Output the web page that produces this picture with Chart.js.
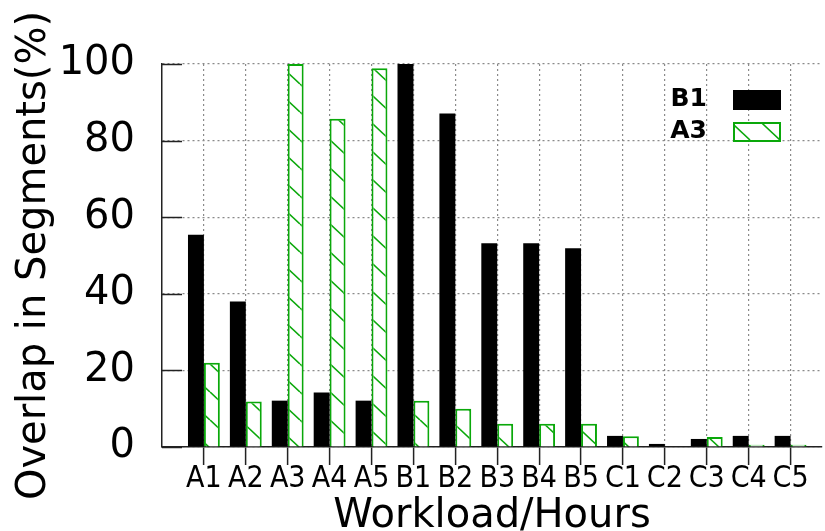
<!DOCTYPE html>
<html>
<head>
<meta charset="utf-8">
<script src="https://cdn.jsdelivr.net/npm/chart.js@4.4.1/dist/chart.umd.min.js"></script>
<style>
  body { margin: 0; background: #fff; }
  #wrap { width: 825px; height: 531px; }
</style>
</head>
<body>
<div id="wrap"><canvas id="overlapChart"></canvas></div>
<script>
// values (percent of segments)
const workloads = ['A1', 'A2', 'A3', 'A4', 'A5', 'B1', 'B2', 'B3', 'B4', 'B5', 'C1', 'C2', 'C3', 'C4', 'C5'];
const b1Overlap = [55.4, 38, 12.1, 14.2, 12.1, 100, 87.1, 53.2, 53.2, 51.9, 2.9, 0.8, 2.1, 2.9, 2.9];
const a3Overlap = [22, 11.9, 100, 85.7, 98.9, 12.1, 10, 6.1, 6.1, 6.1, 2.8, 0, 2.6, 0.6, 0.6];
const yTicks = [0, 20, 40, 60, 80, 100];

const GREEN = '#0aa80a';
const GRID = '#8a8a8a';

// diagonal hatch like gnuplot's pattern fill
function makeHatch(color) {
    const w = 30, h = 28;
    const c = document.createElement('canvas');
    c.width = w; c.height = h;
    const g = c.getContext('2d');
    g.fillStyle = '#fff';
    g.fillRect(0, 0, w, h);
    g.strokeStyle = color;
    g.lineWidth = 1.6;
    [-w, 0, w].forEach(dx => {
        g.beginPath();
        g.moveTo(dx, 0);
        g.lineTo(dx + w, h);
        g.stroke();
    });
    return g.createPattern(c, 'repeat');
}
const hatch = makeHatch(GREEN);

// short solid tick marks inside the left axis
const innerTicks = {
    id: 'innerTicks',
    beforeDatasetsDraw(chart) {
        const { ctx, chartArea, scales } = chart;
        ctx.save();
        ctx.strokeStyle = '#222';
        ctx.lineWidth = 1.5;
        yTicks.forEach(v => {
            const y = Math.round(scales.y.getPixelForValue(v)) + 0.5;
            ctx.beginPath();
            ctx.moveTo(chartArea.left, y);
            ctx.lineTo(chartArea.left + 20, y);
            ctx.stroke();
        });
        ctx.restore();
    }
};

// legend inside the plot, text left of the sample box
const keyBox = {
    id: 'keyBox',
    afterDraw(chart) {
        const ctx = chart.ctx;
        const rows = [98, 130];
        ctx.save();
        ctx.font = 'bold 25px "DejaVu Sans"';
        ctx.textAlign = 'right';
        ctx.textBaseline = 'middle';
        chart.data.datasets.forEach((ds, i) => {
            const y = rows[i];
            ctx.fillStyle = '#000';
            ctx.fillText(ds.label, 707, y + 1);
            ctx.fillStyle = ds.backgroundColor;
            ctx.fillRect(733, y - 8, 48, 20);
            if (ds.borderWidth) {
                ctx.strokeStyle = ds.borderColor;
                ctx.lineWidth = 2;
                ctx.strokeRect(734, y - 7, 46, 18);
            }
        });
        ctx.restore();
    }
};

const ctx = document.getElementById('overlapChart').getContext('2d');
new Chart(ctx, {
    type: 'bar',
    data: {
        datasets: [{
            label: 'B1',
            data: workloads.map((w, i) => ({ x: i, y: b1Overlap[i] })),
            backgroundColor: '#000',
            borderWidth: 0
        }, {
            label: 'A3',
            data: workloads.map((w, i) => ({ x: i, y: a3Overlap[i] })),
            backgroundColor: hatch,
            borderColor: GREEN,
            borderWidth: 2
        }]
    },
    options: {
        animation: false,
        responsive: true,
        maintainAspectRatio: false,
        devicePixelRatio: 1,
        layout: { padding: { top: 64, right: 3, left: 0, bottom: 0 } },
        datasets: { bar: { categoryPercentage: 0.76, barPercentage: 1 } },
        plugins: { legend: { display: false }, tooltip: { enabled: false } },
        scales: {
            x: {
                type: 'linear',
                min: -1,
                max: 14.75,
                offset: false,
                afterFit: s => { s.height = 84; },
                ticks: {
                    stepSize: 1,
                    includeBounds: false,
                    autoSkip: false,
                    maxRotation: 0,
                    padding: -4,
                    color: '#000',
                    font: { family: '"DejaVu Sans Condensed", "DejaVu Sans"', size: 30 },
                    callback: v => workloads[v] ?? ''
                },
                grid: {
                    offset: false,
                    color: c => (c.tick && c.tick.value >= 0 ? GRID : 'rgba(0,0,0,0)'),
                    tickColor: c => (c.tick && c.tick.value >= 0 ? '#222' : 'rgba(0,0,0,0)'),
                    tickLength: 18,
                    tickWidth: 1.5,
                    lineWidth: 1.2
                },
                border: { color: '#222', width: 1.5, dash: [2, 3] },
                title: {
                    display: true,
                    text: 'Workload/Hours',
                    color: '#000',
                    padding: { top: 0, bottom: -6 },
                    font: { family: '"DejaVu Sans"', size: 40, lineHeight: 1 }
                }
            },
            y: {
                min: 0,
                max: 100,
                afterFit: s => { s.width = 162; },
                ticks: {
                    stepSize: 20,
                    padding: 27,
                    color: '#000',
                    font: { family: '"DejaVu Sans"', size: 40 }
                },
                grid: { color: GRID, lineWidth: 1.2, drawTicks: false },
                border: { color: '#222', width: 1.5, dash: [2, 3] },
                title: {
                    display: true,
                    text: 'Overlap in Segments(%)',
                    color: '#000',
                    padding: { top: 11, bottom: 0 },
                    font: { family: '"DejaVu Sans"', size: 40 }
                }
            }
        }
    },
    plugins: [innerTicks, keyBox]
});
</script>
</body>
</html>
